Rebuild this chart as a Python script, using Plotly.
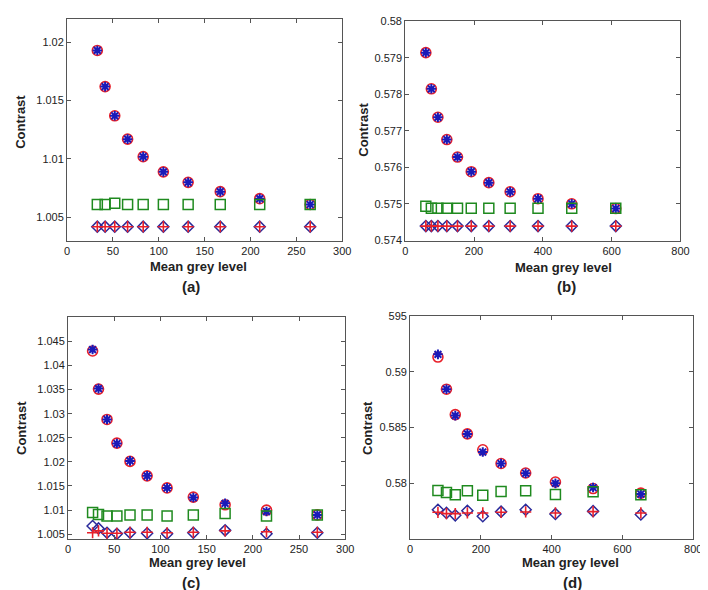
import plotly.graph_objects as go

# ---------------- data ----------------
a_x = [33, 41.5, 52, 66, 83, 105, 132, 167, 210, 265]
a_circle = [1.0193, 1.0162, 1.0137, 1.0117, 1.0102, 1.0089, 1.0080, 1.0072, 1.0066, 1.0061]
a_star = [1.0193, 1.0162, 1.0137, 1.0117, 1.0102, 1.0089, 1.0080, 1.0072, 1.0066, 1.0061]
a_square = [1.0061, 1.0061, 1.0062, 1.0061, 1.0061, 1.0061, 1.0061, 1.0061, 1.0061, 1.0061]
a_diamond = [1.0042, 1.0042, 1.0042, 1.0042, 1.0042, 1.0042, 1.0042, 1.0042, 1.0042, 1.0042]
a_plus = [1.0042, 1.0042, 1.0042, 1.0042, 1.0042, 1.0042, 1.0042, 1.0042, 1.0042, 1.0042]

b_x = [60, 76, 95, 121, 152, 192, 243, 305, 386, 484, 612]
b_circle = [0.57914, 0.57815, 0.57737, 0.57676, 0.57628, 0.57588, 0.57558, 0.57533, 0.57514, 0.57500, 0.57487]
b_star = [0.57914, 0.57815, 0.57737, 0.57676, 0.57628, 0.57588, 0.57558, 0.57533, 0.57514, 0.57500, 0.57487]
b_square = [0.57493, 0.57488, 0.57488, 0.57488, 0.57488, 0.57488, 0.57488, 0.57488, 0.57488, 0.57488, 0.57488]
b_diamond = [0.57439] * 11
b_plus = [0.57439] * 11

c_x = [26.6, 33, 42.2, 52.9, 67.1, 85.6, 107.2, 135.6, 170, 214.8, 269.8]
c_circle = [1.0430, 1.0351, 1.0288, 1.0239, 1.0201, 1.0171, 1.0146, 1.0127, 1.0111, 1.0100, 1.0090]
c_star = [1.0433, 1.0352, 1.0288, 1.0238, 1.0202, 1.0171, 1.0146, 1.0126, 1.0114, 1.0097, 1.0090]
c_square = [1.0095, 1.0091, 1.0088, 1.0088, 1.0090, 1.0090, 1.0088, 1.0090, 1.0093, 1.0088, 1.0090]
c_diamond = [1.0067, 1.0062, 1.0053, 1.0051, 1.0053, 1.0052, 1.0051, 1.0053, 1.0058, 1.0051, 1.0053]
c_plus = [1.0053, 1.0057, 1.0052, 1.0052, 1.0054, 1.0054, 1.0053, 1.0054, 1.0057, 1.0055, 1.0054]

d_x = [78.6, 102.7, 127.6, 161.8, 205.3, 257, 326.5, 410.6, 517, 652]
d_circle = [0.59134, 0.58845, 0.58617, 0.58444, 0.58301, 0.58178, 0.58093, 0.58012, 0.57953, 0.57912]
d_star = [0.59158, 0.58845, 0.58608, 0.58444, 0.58281, 0.58178, 0.58090, 0.58000, 0.57962, 0.57904]
d_square = [0.57936, 0.57918, 0.57898, 0.57933, 0.57892, 0.57927, 0.57933, 0.57900, 0.57924, 0.57898]
d_diamond = [0.57763, 0.57734, 0.57713, 0.57754, 0.57705, 0.57746, 0.57763, 0.57725, 0.57750, 0.57720]
d_plus = [0.57740, 0.57728, 0.57728, 0.57734, 0.57734, 0.57740, 0.57743, 0.57734, 0.57746, 0.57734]

a_xticks = [0, 50, 100, 150, 200, 250, 300]
a_yticks = [1.005, 1.01, 1.015, 1.02]
a_ytext = ["1.005", "1.01", "1.015", "1.02"]
b_xticks = [0, 200, 400, 600, 800]
b_yticks = [0.574, 0.575, 0.576, 0.577, 0.578, 0.579, 0.58]
b_ytext = ["0.574", "0.575", "0.576", "0.577", "0.578", "0.579", "0.58"]
c_xticks = [0, 50, 100, 150, 200, 250, 300]
c_yticks = [1.005, 1.01, 1.015, 1.02, 1.025, 1.03, 1.035, 1.04, 1.045]
c_ytext = ["1.005", "1.01", "1.015", "1.02", "1.025", "1.03", "1.035", "1.04", "1.045"]
d_xticks = [0, 200, 400, 600, 800]
d_yticks = [0.58, 0.585, 0.59, 0.595]
d_ytext = ["0.58", "0.585", "0.59", "595"]

x_title = "Mean grey level"
y_title = "Contrast"
panel_labels = ["(a)", "(b)", "(c)", "(d)"]

# ---------------- figure ----------------
W, H = 708, 590
FONT = "Liberation Sans, Arial, sans-serif"
RED = "#e8202a"
BLUE = "#1a1ab8"
GREEN = "#1f8a1f"
DBLUE = "#2a2a9a"

panels = [
    dict(x=a_x, ys=[a_circle, a_star, a_square, a_diamond, a_plus], box=(57, 337, 5, 231),
         xr=[0, 300], yr=[1.003, 1.022], xt=a_xticks, yt=a_yticks, ytt=a_ytext,
         xtitle=(191, 257), lab=(183, 278), ytitle=(10, 110)),
    dict(x=b_x, ys=[b_circle, b_star, b_square, b_diamond, b_plus], box=(401, 681, 7, 231),
         xr=[0, 800], yr=[0.57399, 0.58001], xt=b_xticks, yt=b_yticks, ytt=b_ytext,
         xtitle=(562, 258), lab=(565, 278), ytitle=(359, 118)),
    dict(x=c_x, ys=[c_circle, c_star, c_square, c_diamond, c_plus], box=(58, 340, 309, 535),
         xr=[0, 300], yr=[1.004, 1.05], xt=c_xticks, yt=c_yticks, ytt=c_ytext,
         xtitle=(190, 559), lab=(183, 579), ytitle=(10, 422)),
    dict(x=d_x, ys=[d_circle, d_star, d_square, d_diamond, d_plus], box=(406, 694, 308, 535),
         xr=[0, 800], yr=[0.575, 0.595], xt=d_xticks, yt=d_yticks, ytt=d_ytext,
         xtitle=(569, 559), lab=(571, 579), ytitle=(362, 422)),
]

styles = [
    dict(symbol="circle-open", size=10, color=RED, line=dict(width=1.6, color=RED)),
    dict(symbol="asterisk-open", size=8, color=BLUE, line=dict(width=2, color=BLUE)),
    dict(symbol="square-open", size=10, color=GREEN, line=dict(width=1.5, color=GREEN)),
    dict(symbol="diamond-open", size=8.5, color=DBLUE, line=dict(width=1.5, color=DBLUE)),
    dict(symbol="cross-thin-open", size=8, color=RED, line=dict(width=1.6, color=RED)),
]

fig = go.Figure()
annotations = []
layout_axes = {}

for i, p in enumerate(panels):
    n = i + 1
    xa = "x" if n == 1 else f"x{n}"
    ya = "y" if n == 1 else f"y{n}"
    for ys, st in zip(p["ys"], styles):
        fig.add_trace(go.Scatter(x=p["x"], y=ys, mode="markers", xaxis=xa, yaxis=ya,
                                 marker=st, showlegend=False, hoverinfo="skip"))
    l, r, t, b = p["box"]
    common = dict(showline=True, linecolor="#555555", linewidth=1, mirror="ticks",
                  ticks="inside", ticklen=4, tickcolor="#555555", showgrid=False,
                  zeroline=False, tickfont=dict(family=FONT, size=11, color="#222222"))
    layout_axes["xaxis" if n == 1 else f"xaxis{n}"] = dict(
        domain=[l / W, r / W], range=p["xr"], tickvals=p["xt"], anchor=ya, **common)
    layout_axes["yaxis" if n == 1 else f"yaxis{n}"] = dict(
        domain=[1 - b / H, 1 - t / H], range=p["yr"], tickvals=p["yt"], ticktext=p["ytt"],
        anchor=xa, **common)
    tx, ty = p["xtitle"]
    annotations.append(dict(text=f"<b>{x_title}</b>", x=tx / W, y=1 - ty / H, xref="paper", yref="paper",
                            showarrow=False, xanchor="center", yanchor="middle",
                            font=dict(family=FONT, size=13, color="#222222")))
    lx, ly = p["lab"]
    annotations.append(dict(text=f"<b>{panel_labels[i]}</b>", x=lx / W, y=1 - ly / H, xref="paper", yref="paper",
                            showarrow=False, xanchor="center", yanchor="middle",
                            font=dict(family=FONT, size=15, color="#222222")))
    yx, yy = p["ytitle"]
    annotations.append(dict(text=f"<b>{y_title}</b>", x=yx / W, y=1 - yy / H, xref="paper", yref="paper",
                            showarrow=False, xanchor="center", yanchor="middle", textangle=-90,
                            font=dict(family=FONT, size=13, color="#222222")))

fig.update_layout(width=W, height=H, margin=dict(l=0, r=0, t=0, b=0),
                  paper_bgcolor="white", plot_bgcolor="white",
                  annotations=annotations, **layout_axes)

fig.write_html("out.html")
